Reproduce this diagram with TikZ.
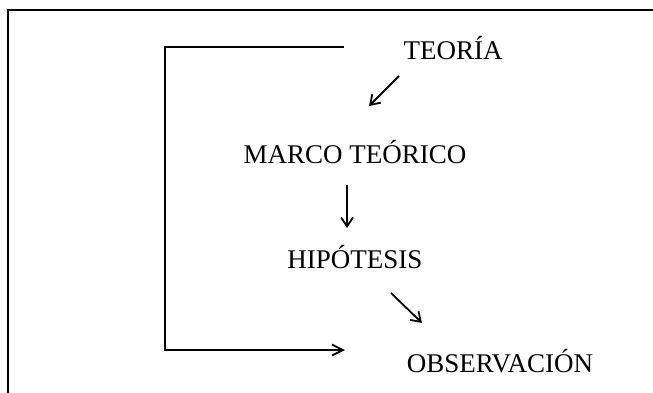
\documentclass[tikz,border=0pt]{standalone}
\usepackage{fontspec}
\setmainfont{Liberation Serif}
\usepackage{tikz}
\usetikzlibrary{arrows.meta,positioning,calc}

\begin{document}
\begin{tikzpicture}[x=1pt, y=-1pt,
    lab/.style={inner sep=0pt, anchor=base, font=\fontsize{27}{32}\selectfont},
    flecha/.style={line width=1.8pt, -{Straight Barb[length=9pt,width=12pt,line width=1.8pt]}},
    marco/.style={line width=2.6pt},
  ]
    \useasboundingbox (0,0) rectangle (653,393);
    % frame
    \draw[line width=1.6pt] (8,393) -- (8,10) -- (653,10);
    % concepts
    \node[lab] (teo) at (453,60) {TEORÍA};
    \node[lab] (mar) at (355,163) {MARCO TEÓRICO};
    \node[lab] (hip) at (355,268) {HIPÓTESIS};
    \node[lab] (obs) at (500,372) {OBSERVACIÓN};
    % arrows
    \draw[flecha] ($(teo.base)+(-54,16)$) -- ($(mar.base)+(14,-57)$);
    \draw[flecha] ($(mar.base)+(-8,22)$) -- ($(hip.base)+(-8,-40)$);
    \draw[flecha] ($(hip.base)+(36,25)$) -- ($(obs.base)+(-78,-49)$);
    % loop back
    \coordinate (lft) at (165,0);
    \coordinate (c1) at ($(teo.base)+(-109,-13)$);
    \coordinate (c2) at ($(obs.base)+(-155,-22)$);
    \draw[marco, -{Straight Barb[length=11pt,width=11pt,line width=1.8pt]}]
      (c1) -- (lft |- c1) -- (lft |- c2) -- (c2);
\end{tikzpicture}
\end{document}
